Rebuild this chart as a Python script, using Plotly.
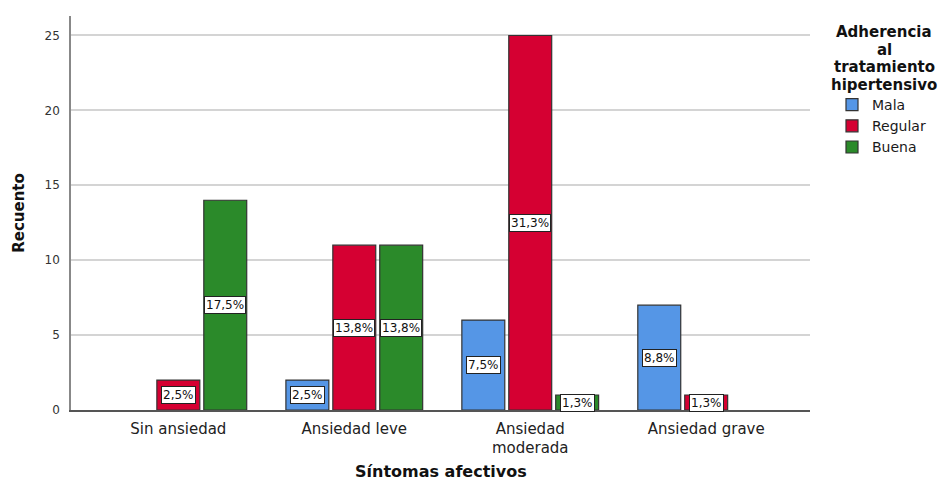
from decimal import Decimal, ROUND_HALF_UP
import plotly.graph_objects as go

# Conteos por nivel de síntomas afectivos y adherencia al tratamiento
categorias = ["Sin ansiedad", "Ansiedad leve", "Ansiedad<br>moderada", "Ansiedad grave"]
series = ["Mala", "Regular", "Buena"]
mala = [0, 2, 6, 7]
regular = [2, 11, 25, 1]
buena = [14, 11, 1, 0]
colores = ["#5596E6", "#D50032", "#2B8A2A"]
y_ticks = [0, 5, 10, 15, 20, 25]
titulo_leyenda = ["Adherencia", "al", "tratamiento", "hipertensivo"]

valores = [mala, regular, buena]
total = sum(sum(v) for v in valores)

FONT = "DejaVu Sans, Verdana, sans-serif"
W, H = 945, 483
ML, MR, MT, MB = 71, 135, 16, 73
PW, PH = W - ML - MR, H - MT - MB


def px_x(px):
    return (px - ML) / PW


def px_y(py):
    return (H - MB - py) / PH


def porcentaje(v):
    p = (Decimal(v) * 100 / Decimal(total)).quantize(Decimal("0.1"), rounding=ROUND_HALF_UP)
    return str(p).replace(".", ",") + "%"


BARGAP = 0.2
fig = go.Figure()
for nombre, vals, color in zip(series, valores, colores):
    # los recuentos nulos no dibujan barra
    fig.add_trace(go.Bar(
        name=nombre, x=list(range(len(categorias))),
        y=[v if v else None for v in vals],
        marker=dict(color=color, line=dict(color="#333333", width=1.2)),
    ))

# Etiquetas de porcentaje centradas en cada barra
n = len(series)
slot = (1 - BARGAP) / n
for j, vals in enumerate(valores):
    for i, v in enumerate(vals):
        if v == 0:
            continue
        fig.add_annotation(
            x=i + (j - (n - 1) / 2) * slot, y=v / 2, text=porcentaje(v),
            showarrow=False, xref="x", yref="y",
            font=dict(family=FONT, size=12, color="#111"),
            bgcolor="white", bordercolor="#222", borderwidth=1, borderpad=1,
        )

# Título de la leyenda, una línea por anotación
for k, linea in enumerate(titulo_leyenda):
    fig.add_annotation(
        x=px_x(884), y=px_y(32 + k * 17.5), xref="paper", yref="paper",
        text=f"<b>{linea}</b>", showarrow=False,
        font=dict(family=FONT, size=15, color="#111"),
        xanchor="center", yanchor="middle", borderpad=0,
    )

# Título del eje X
fig.add_annotation(
    x=0.5, y=px_y(471), xref="paper", yref="paper",
    text="<b>Síntomas afectivos</b>", showarrow=False,
    font=dict(family=FONT, size=16, color="#111"),
    xanchor="center", yanchor="middle",
)

fig.update_layout(
    width=W, height=H,
    margin=dict(l=ML, r=MR, t=MT, b=MB, autoexpand=False),
    paper_bgcolor="white", plot_bgcolor="white",
    barmode="group", bargap=BARGAP, bargroupgap=0.085,
    font=dict(family=FONT, color="#222"),
    showlegend=True,
    legend=dict(
        x=px_x(832), y=px_y(89), xanchor="left", yanchor="top",
        font=dict(family=FONT, size=14, color="#1a1a1a"),
        itemwidth=30, tracegroupgap=0,
    ),
    xaxis=dict(
        tickmode="array", tickvals=list(range(len(categorias))), ticktext=categorias,
        range=[-0.61, 3.59], showgrid=False, automargin=False,
        showline=True, linecolor="#555", linewidth=1.5,
        tickfont=dict(family=FONT, size=15, color="#222"),
        ticks="", ticklabelstandoff=4,
    ),
    yaxis=dict(
        range=[0, 26.3], tickvals=y_ticks, showgrid=True, automargin=False,
        gridcolor="#d4d4d4", gridwidth=1.5, zeroline=False,
        showline=True, linecolor="#888", linewidth=1.5,
        tickfont=dict(family=FONT, size=12, color="#333"), ticks="",
        ticklabelstandoff=7,
        title=dict(text="<b>Recuento</b>", font=dict(family=FONT, size=15, color="#111"),
                   standoff=16),
    ),
)

fig.write_html("out.html")
